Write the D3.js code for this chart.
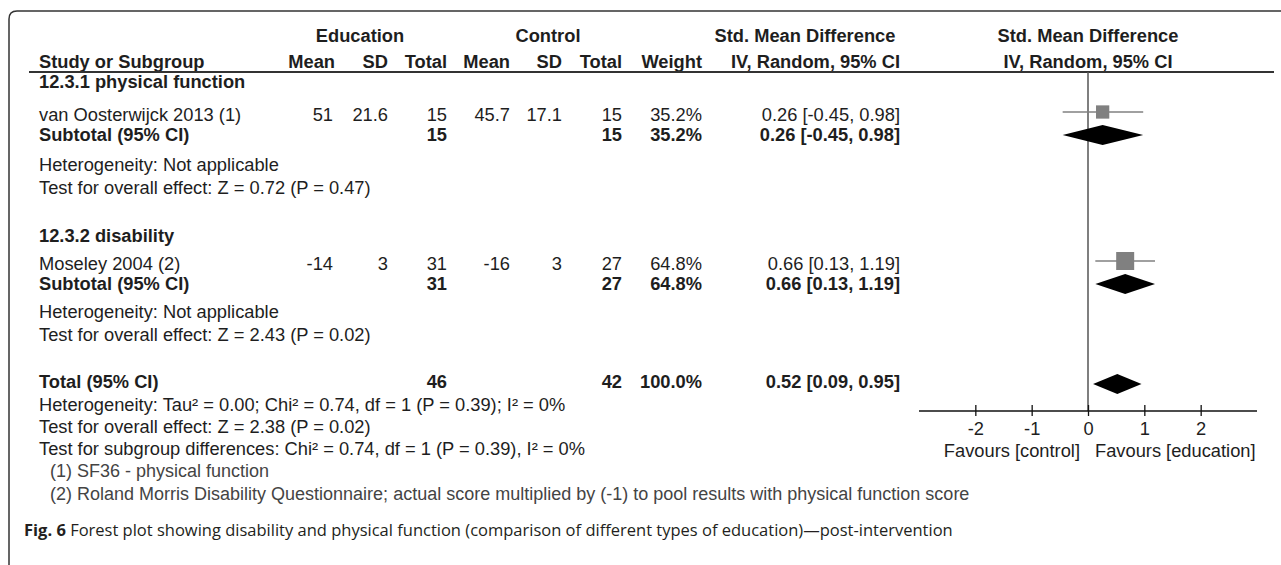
<!DOCTYPE html>
<html>
<head>
<meta charset="utf-8">
<title>Forest plot</title>
<script src="https://cdn.jsdelivr.net/npm/d3@7/dist/d3.min.js"></script>
<style>
  body { margin: 0; background: #fff; }
  text { font-family: "Liberation Sans", Arial, sans-serif; font-size: 18.3px; fill: #1e1e1e; }
  .b { font-weight: bold; }
  .note { fill: #444; font-size: 18px; }
  .cap { font-family: "Open Sans", "Noto Sans", sans-serif; font-size: 16.5px; fill: #231f20; }
</style>
</head>
<body>
<script>
// ---- data ----
var groupNames = ["12.3.1 physical function", "12.3.2 disability"];
var studyNames = ["van Oosterwijck 2013 (1)", "Moseley 2004 (2)"];
var eduMean = [51, -14];
var eduSD = [21.6, 3];
var eduN = [15, 31];
var ctlMean = [45.7, -16];
var ctlSD = [17.1, 3];
var ctlN = [15, 27];
var weights = ["35.2%", "64.8%"];
var smd = [0.26, 0.66];
var ciLow = [-0.45, 0.13];
var ciHigh = [0.98, 1.19];
var hetTexts = ["Heterogeneity: Not applicable", "Heterogeneity: Not applicable"];
var effectTexts = ["Test for overall effect: Z = 0.72 (P = 0.47)", "Test for overall effect: Z = 2.43 (P = 0.02)"];

var totalN = [46, 42];
var totalSmd = 0.52, totalLow = 0.09, totalHigh = 0.95;
var totalTexts = [
  "Heterogeneity: Tau\u00b2 = 0.00; Chi\u00b2 = 0.74, df = 1 (P = 0.39); I\u00b2 = 0%",
  "Test for overall effect: Z = 2.38 (P = 0.02)",
  "Test for subgroup differences: Chi\u00b2 = 0.74, df = 1 (P = 0.39), I\u00b2 = 0%"
];
var footnotes = [
  "(1) SF36 - physical function",
  "(2) Roland Morris Disability Questionnaire; actual score multiplied by (-1) to pool results with physical function score"
];
var axisDomain = [-3, 3];
var axisTicks = [-2, -1, 0, 1, 2];
var favours = ["Favours [control]", "Favours [education]"];

// ---- layout ----
var width = 1281, height = 565;
var svg = d3.select("body").append("svg")
  .attr("width", width).attr("height", height);

// column right edges
var col = { name: 39, eMean: 333, eSD: 388, eN: 447, cMean: 510, cSD: 562, cN: 622, w: 702, ci: 900 };
// row baselines per subgroup: group title, study, subtotal, heterogeneity, overall effect
var groupRows = [[88, 121, 141, 171, 194], [242, 270, 290, 318, 341]];
var totalRow = 388, totalLines = [411, 433, 455], noteRows = [477, 500];

var x = d3.scaleLinear().domain(axisDomain).range([919, 1257]);
var axisY = 411, headLine = 72;

// frame
svg.append("path")
  .attr("d", "M9,565 V19 Q9,11 17,11 H1281")
  .attr("fill", "none").attr("stroke", "#333").attr("stroke-width", 1.5);

function txt(s, xx, yy, anchor, cls) {
  return svg.append("text").attr("x", xx).attr("y", yy)
    .attr("text-anchor", anchor || "start").attr("class", cls || "").text(s);
}

// headers
txt("Education", 360, 42, "middle", "b");
txt("Control", 548, 42, "middle", "b");
txt("Std. Mean Difference", 805, 42, "middle", "b");
txt("Std. Mean Difference", x(0), 42, "middle", "b");
txt("Study or Subgroup", col.name, 68, "start", "b");
[["Mean", col.eMean + 2], ["SD", col.eSD], ["Total", col.eN], ["Mean", col.cMean], ["SD", col.cSD], ["Total", col.cN], ["Weight", col.w], ["IV, Random, 95% CI", col.ci]]
  .forEach(function (h) { txt(h[0], h[1], 68, "end", "b"); });
txt("IV, Random, 95% CI", x(0), 68, "middle", "b");

svg.append("line").attr("x1", 29).attr("x2", 1274).attr("y1", headLine).attr("y2", headLine)
  .attr("stroke", "#333").attr("stroke-width", 2);

// zero line
svg.append("line").attr("x1", x(0)).attr("x2", x(0)).attr("y1", headLine).attr("y2", axisY)
  .attr("stroke", "#555").attr("stroke-width", 1.5);

function ciText(m, lo, hi) {
  return m.toFixed(2) + " [" + lo.toFixed(2) + ", " + hi.toFixed(2) + "]";
}
function diamond(m, lo, hi, cy, h) {
  svg.append("path")
    .attr("d", "M" + x(lo) + "," + cy + " L" + x(m) + "," + (cy - h / 2) +
      " L" + x(hi) + "," + cy + " L" + x(m) + "," + (cy + h / 2) + "Z")
    .attr("fill", "#000");
}

var sqSize = d3.scaleSqrt().domain([0, 64.8]).range([0, 18]);

groupNames.forEach(function (g, i) {
  var r = groupRows[i];
  var ys = r[1], yt = r[2];
  txt(g, col.name, r[0], "start", "b");
  txt(studyNames[i], col.name, ys);
  txt(eduMean[i], col.eMean, ys, "end");
  txt(eduSD[i], col.eSD, ys, "end");
  txt(eduN[i], col.eN, ys, "end");
  txt(ctlMean[i], col.cMean, ys, "end");
  txt(ctlSD[i], col.cSD, ys, "end");
  txt(ctlN[i], col.cN, ys, "end");
  txt(weights[i], col.w, ys, "end");
  txt(ciText(smd[i], ciLow[i], ciHigh[i]), col.ci, ys, "end");

  txt("Subtotal (95% CI)", col.name, yt, "start", "b");
  txt(eduN[i], col.eN, yt, "end", "b");
  txt(ctlN[i], col.cN, yt, "end", "b");
  txt(weights[i], col.w, yt, "end", "b");
  txt(ciText(smd[i], ciLow[i], ciHigh[i]), col.ci, yt, "end", "b");
  txt(hetTexts[i], col.name, r[3]);
  txt(effectTexts[i], col.name, r[4]);

  // study marker
  var cy = ys - 9, s = sqSize(parseFloat(weights[i]));
  svg.append("line").attr("x1", x(ciLow[i])).attr("x2", x(ciHigh[i]))
    .attr("y1", cy).attr("y2", cy).attr("stroke", "#808080").attr("stroke-width", 1.5);
  svg.append("rect").attr("x", x(smd[i]) - s / 2).attr("y", cy - s / 2)
    .attr("width", s).attr("height", s).attr("fill", "#808080");
  diamond(smd[i], ciLow[i], ciHigh[i], yt - 6, 20);
});

// total
txt("Total (95% CI)", col.name, totalRow, "start", "b");
txt(totalN[0], col.eN, totalRow, "end", "b");
txt(totalN[1], col.cN, totalRow, "end", "b");
txt("100.0%", col.w, totalRow, "end", "b");
txt(ciText(totalSmd, totalLow, totalHigh), col.ci, totalRow, "end", "b");
diamond(totalSmd, totalLow, totalHigh, totalRow - 4, 20);
totalTexts.forEach(function (t, i) { txt(t, col.name, totalLines[i]); });
footnotes.forEach(function (t, i) { txt(t, 50, noteRows[i], "start", "note"); });

// axis
var axis = d3.axisBottom(x).tickValues(axisTicks).tickSize(5).tickFormat(function (d) { return String(d); });
var ag = svg.append("g").attr("transform", "translate(0," + axisY + ")").call(axis);
ag.select(".domain").attr("stroke", "#111").attr("stroke-width", 1.3)
  .attr("d", "M" + x(axisDomain[0]) + ",0H" + x(axisDomain[1]));
ag.selectAll(".tick line").attr("y1", -6).attr("y2", 5).attr("stroke", "#111").attr("stroke-width", 1.3);
ag.selectAll(".tick text").attr("y", 11).attr("dy", "0.71em")
  .style("font-family", "Liberation Sans, Arial, sans-serif").style("font-size", "18.3px").attr("fill", "#333");
txt(favours[0], x(0) - 8, 457, "end");
txt(favours[1], x(0) + 7, 457, "start");

// caption
var cap = svg.append("text").attr("class", "cap").attr("x", 24).attr("y", 536);
cap.append("tspan").style("font-weight", "bold").text("Fig. 6");
cap.append("tspan").text(" Forest plot showing disability and physical function (comparison of different types of education)\u2014post-intervention");
</script>
</body>
</html>
